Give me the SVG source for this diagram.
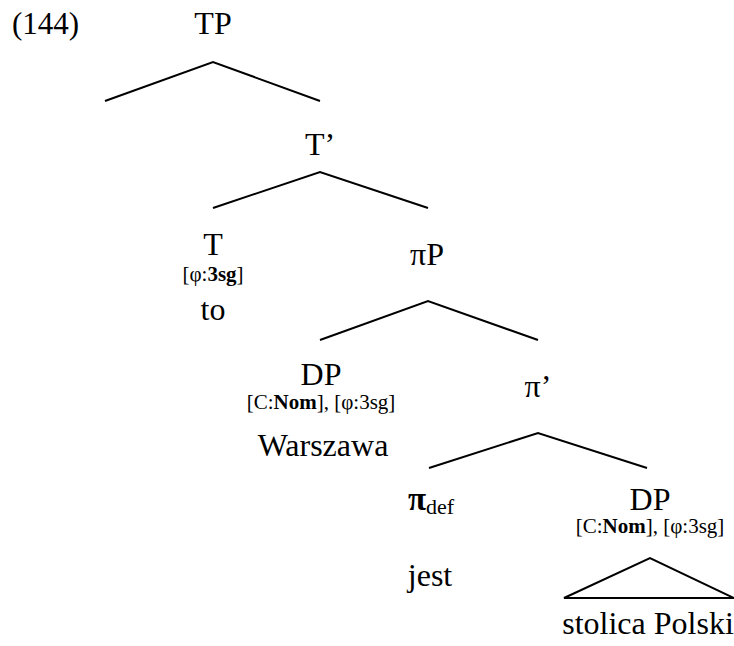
<svg xmlns="http://www.w3.org/2000/svg" width="734" height="646" viewBox="0 0 734 646">
<style>
text{font-family:"Liberation Serif","Times New Roman",Times,"DejaVu Serif",serif;fill:#000}
.l{font-size:32px;text-anchor:middle}
.f{font-size:21px;text-anchor:middle}
.b{font-weight:bold}
.e{stroke:#000;stroke-width:2;fill:none}
</style>
<rect width="734" height="646" fill="#fff"/>
<text x="12" y="34" style="font-size:31px">(144)</text>
<g id="connectors">
<polyline class="e" points="105,101 213,62 320,101"/>
<polyline class="e" points="213,208 320,172 428,208"/>
<polyline class="e" points="320,340 428,301 538,340"/>
<polyline class="e" points="429,468 538,433 647,468"/>
<polygon class="e" points="564,598 650,558 734,598"/>
</g>
<g id="TP"><text class="l" x="213" y="34">TP</text></g>
<g id="Tbar"><text class="l" x="320" y="155">T’</text></g>
<g id="T"><text class="l" x="213" y="255">T</text><text class="f" x="213" y="281">[φ:<tspan class="b">3sg</tspan>]</text><text class="l" x="213" y="320">to</text></g>
<g id="piP"><text class="l" x="427" y="265">πP</text></g>
<g id="DP1"><text class="l" x="321" y="385">DP</text><text class="f" x="321" y="409">[C:<tspan class="b">Nom</tspan>], [φ:3sg]</text><text class="l" x="323" y="456">Warszawa</text></g>
<g id="pibar"><text class="l" x="538" y="397">π’</text></g>
<g id="pidef"><text x="408" y="510" style="font-size:33px"><tspan class="b">π</tspan><tspan style="font-size:22px" dy="4">def</tspan></text><text class="l" x="430" y="586">jest</text></g>
<g id="DP2"><text class="l" x="650" y="510">DP</text><text class="f" x="650" y="533">[C:<tspan class="b">Nom</tspan>], [φ:3sg]</text><text class="l" x="648" y="634">stolica Polski</text></g>
</svg>
